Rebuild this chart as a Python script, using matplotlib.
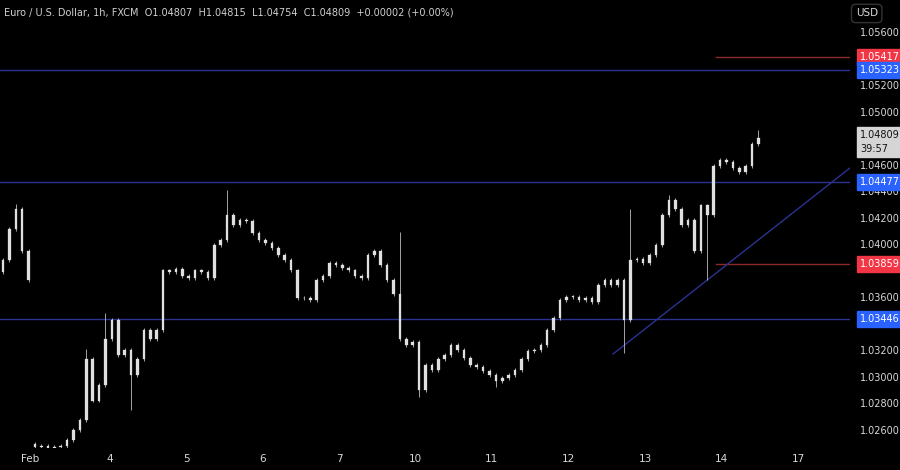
import matplotlib
matplotlib.use("Agg")
import matplotlib.pyplot as plt
import matplotlib.transforms as mtransforms
from matplotlib.patches import Rectangle

closes = [1.0389, 1.0412, 1.0427, 1.0396, 1.0374,
          1.0248, 1.0249, 1.0246, 1.0248, 1.0249, 1.0253, 1.0261, 1.0268, 1.0314, 1.0283,
          1.0295, 1.0329, 1.0344, 1.0317, 1.0321, 1.0302, 1.0314, 1.0336, 1.0329, 1.0336,
          1.0381, 1.0380, 1.0382, 1.0377, 1.0375, 1.0381, 1.0380, 1.0375, 1.0400, 1.0404,
          1.0423, 1.0415, 1.0419, 1.0418, 1.0409, 1.0404, 1.0402, 1.0398, 1.0393, 1.0389,
          1.0381, 1.0360, 1.0360, 1.0359, 1.0374, 1.0377, 1.0387, 1.0385, 1.0383, 1.0381,
          1.0377, 1.0375, 1.0393, 1.0396, 1.0385, 1.0374, 1.0363, 1.0329, 1.0325, 1.0327,
          1.0291, 1.0310, 1.0306, 1.0314, 1.0317, 1.0325, 1.0321, 1.0315, 1.0310, 1.0308,
          1.0305, 1.0302, 1.0298, 1.0300, 1.0302, 1.0306, 1.0314, 1.0320, 1.0321, 1.0325,
          1.0336, 1.0345, 1.0359, 1.0361, 1.0361, 1.0359, 1.0360, 1.0357, 1.0370, 1.0374,
          1.0370, 1.0374, 1.0344, 1.0389, 1.0390, 1.0387, 1.0393, 1.0400, 1.0423, 1.0434,
          1.0427, 1.0415, 1.0419, 1.0396, 1.0430, 1.0423, 1.0460, 1.0464, 1.0463, 1.0458,
          1.0455, 1.0460, 1.0476, 1.0481]
first_open = 1.0380
gap_opens = {5: 1.0250}
wicks = {2: (1.0431, None), 13: (1.0322, None), 16: (1.0349, None), 20: (None, 1.0276),
         35: (1.0442, None), 62: (1.0410, None), 65: (None, 1.0286), 77: (None, 1.0293),
         97: (None, 1.0319), 98: (1.0427, None), 104: (1.0438, None), 110: (None, 1.0374),
         118: (1.0487, None)}

day_labels = ["Feb", "4", "5", "6", "7", "10", "11", "12", "13", "14", "17"]
day_px = [30, 110, 186, 262, 339, 415, 491, 568, 645, 721, 798]
price_ticks = [1.026, 1.028, 1.030, 1.032, 1.036, 1.040, 1.042, 1.044, 1.046, 1.050, 1.052, 1.056]
blue_levels = [1.05323, 1.04477, 1.03446]
red_levels = [1.05417, 1.03859]
trend = ([95.3, 132.3], [1.03181, 1.04583])
last_price = 1.04809

BG = "#000000"
fig = plt.figure(figsize=(9, 4.7), dpi=100, facecolor=BG)
ax = fig.add_axes([0, 22/470, 850/900, 1 - 22/470])
ax.set_facecolor(BG)
ax.set_xlim(-0.47, 132.3)
ax.set_ylim(1.02472, 1.05849)

opens = []
prev = first_open
for i, c in enumerate(closes):
    o = gap_opens.get(i, prev)
    opens.append(o)
    prev = c
for i, (o, c) in enumerate(zip(opens, closes)):
    hi, lo = max(o, c), min(o, c)
    wh, wl = wicks.get(i, (None, None))
    hi_w = wh if wh else hi + 0.00015
    lo_w = wl if wl else lo - 0.00015
    ax.vlines(i, lo_w, hi_w, color="#bdbdbd", lw=0.6, zorder=3)
    ax.add_patch(Rectangle((i - 0.2, lo), 0.4, max(hi - lo, 0.00004),
                           facecolor="#e0e0e0", edgecolor="#e0e0e0", lw=0.2, zorder=4))

for lv in blue_levels:
    ax.axhline(lv, color="#2b3290", lw=1, zorder=2)
for lv in red_levels:
    ax.plot([111.3, 132.3], [lv, lv], color="#8c2a2a", lw=1, zorder=2)
ax.plot(trend[0], trend[1], color="#2b3290", lw=1, zorder=2)

for s in ax.spines.values():
    s.set_visible(False)
ax.set_yticks([])
ax.set_xticks([(p - 3) / 6.4 for p in day_px])
ax.set_xticklabels(day_labels, color="#d8d8d8", fontsize=7.5)
ax.tick_params(axis="x", length=0, pad=4)

tr = mtransforms.blended_transform_factory(ax.transAxes, ax.transData)
for t in price_ticks:
    ax.text(1.012, t, f"{t:.5f}", transform=tr, color="#d8d8d8", fontsize=7,
            va="center", ha="left", clip_on=False)

def box(y, txt, fc, tc="white"):
    ax.text(1.012, y, txt, transform=tr, color=tc, fontsize=7, va="center", ha="left",
            clip_on=False, zorder=10,
            bbox=dict(boxstyle="square,pad=0.3", fc=fc, ec=fc))

box(1.05417, "1.05417", "#f23645")
box(1.05323, "1.05323", "#2962ff")
box(1.04477, "1.04477", "#2962ff")
box(1.03859, "1.03859", "#f23645")
box(1.03446, "1.03446", "#2962ff")
ax.text(1.012, last_price - 0.0003, "1.04809\n39:57", transform=tr, color="#111111",
        fontsize=7, va="center", ha="left", clip_on=False, zorder=10, linespacing=1.5,
        bbox=dict(boxstyle="square,pad=0.3", fc="#d5d5d5", ec="#d5d5d5"))

fig.text(0.963, 0.982, "USD", color="#d8d8d8", fontsize=7.5, ha="center", va="top",
         bbox=dict(boxstyle="round,pad=0.4", fc=BG, ec="#333333"))
fig.text(0.005, 0.985, "Euro / U.S. Dollar, 1h, FXCM  O1.04807  H1.04815  L1.04754  C1.04809  +0.00002 (+0.00%)",
         color="#cfcfcf", fontsize=7, ha="left", va="top")

fig.savefig("out.png", dpi=100, facecolor=BG)
